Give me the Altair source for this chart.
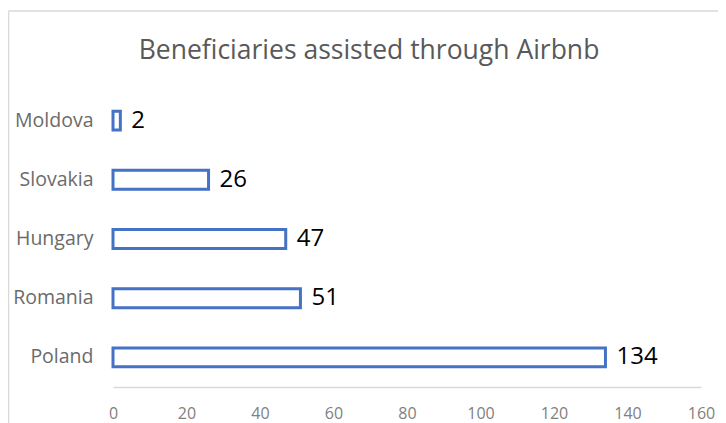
import altair as alt
import pandas as pd

countries = ["Moldova", "Slovakia", "Hungary", "Romania", "Poland"]
values = [2, 26, 47, 51, 134]
x_ticks = [0, 20, 40, 60, 80, 100, 120, 140, 160]
chart_title = "Beneficiaries assisted through Airbnb"

df = pd.DataFrame({"country": countries, "value": values})

FONT = "Open Sans"

base = alt.Chart(df)

y_enc = alt.Y(
    "country:N",
    sort=countries,
    title=None,
    scale=alt.Scale(paddingInner=0.68, paddingOuter=0.34),
    axis=alt.Axis(
        domain=False, ticks=False, labelPadding=20, labelFontSize=19.5,
        labelColor="#6b6b6b", labelFont=FONT, grid=False,
    ),
)

bars = base.mark_bar(fill="white", stroke="#4472C4", strokeWidth=3).encode(
    x=alt.X(
        "value:Q",
        title=None,
        scale=alt.Scale(domain=[0, 160], nice=False, zero=True),
        axis=alt.Axis(
            values=x_ticks, grid=False, ticks=False, domainColor="#d9d9d9",
            domainWidth=1.5, labelPadding=18, labelFontSize=16,
            labelColor="#7f7f7f", labelFont=FONT, labelFlush=False,
        ),
    ),
    y=y_enc,
)

labels = base.mark_text(
    align="left", baseline="middle", dx=11, fontSize=24, font=FONT, color="#000000"
).encode(
    x="value:Q",
    y=alt.Y("country:N", sort=countries),
    text="value:Q",
)

one = pd.DataFrame({"t": [chart_title]})

title_mark = alt.Chart(one).mark_text(
    align="center", baseline="middle", fontSize=26.5, font=FONT, color="#595959"
).encode(x=alt.value(256), y=alt.value(-40), text="t:N")

border_top = alt.Chart(one).mark_rule(
    color="#d9d9d9", strokeWidth=1.5
).encode(x=alt.value(-104.5), x2=alt.value(620), y=alt.value(-80))

border_left = alt.Chart(one).mark_rule(
    color="#d9d9d9", strokeWidth=1.5
).encode(x=alt.value(-104.5), y=alt.value(-80), y2=alt.value(340))

chart = alt.layer(bars, labels, title_mark, border_top, border_left).properties(
    width=588,
    height=296,
    autosize=alt.AutoSizeParams(type="none"),
    padding={"left": 105, "top": 83, "right": 17, "bottom": 44},
).configure_view(stroke=None)

chart.save("out.html", embed_options={"renderer": "svg", "actions": False})
